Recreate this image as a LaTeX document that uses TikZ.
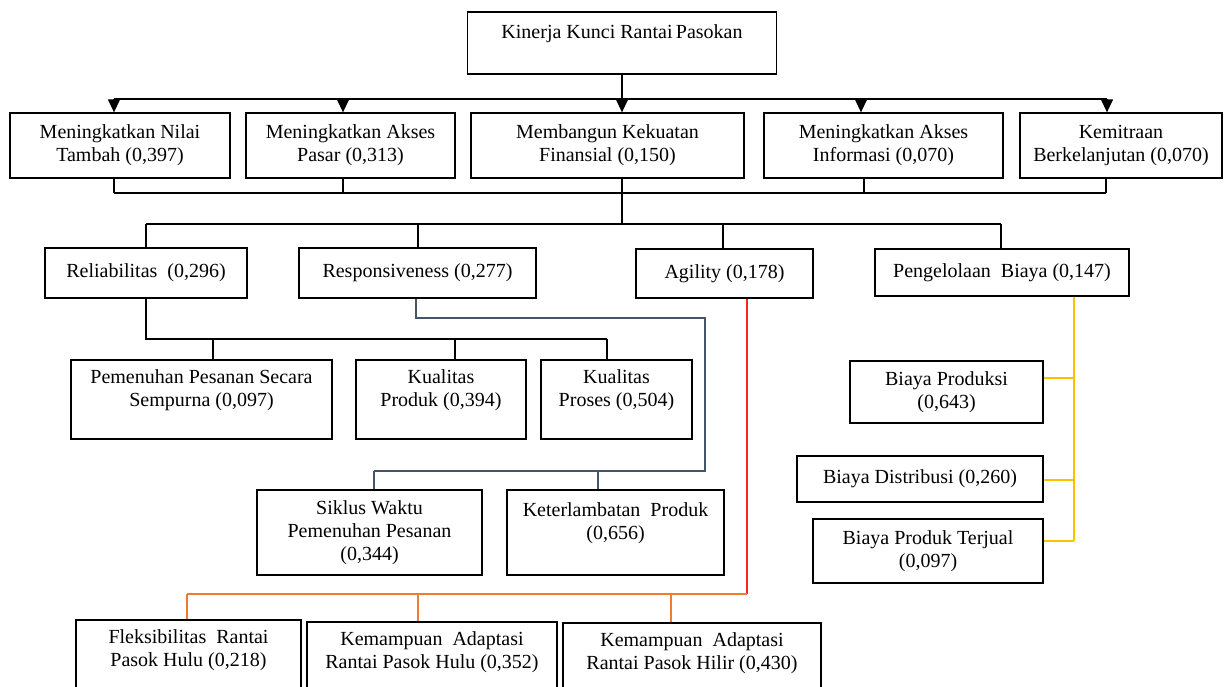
\documentclass[tikz,border=0pt]{standalone}
\usepackage{fontspec}
\setmainfont{Liberation Serif}
\usetikzlibrary{arrows.meta}

\definecolor{cAbu}{HTML}{44546A}
\definecolor{cMerah}{HTML}{FF2424}
\definecolor{cOranye}{HTML}{ED7D31}
\definecolor{cKuning}{HTML}{FFC000}

\tikzset{
  kotak/.style={draw, line width=1.3pt, align=center, inner sep=2pt,
    font=\fontsize{20}{23}\selectfont},
  garis/.style={line width=1.3pt},
  panah/.style={garis, -{Triangle[width=12pt,length=13pt]}},
  jalurAbu/.style={line width=1.4pt, cAbu},
  jalurMerah/.style={line width=1.4pt, cMerah},
  jalurOranye/.style={line width=1.4pt, cOranye},
  jalurKuning/.style={line width=1.4pt, cKuning}
}

\begin{document}
\begin{tikzpicture}[x=1pt, y=-1pt]
    \useasboundingbox (0,0) rectangle (1224,686);
    \clip (0,0) rectangle (1224,686);

    % Obiettivo principale
    \node[kotak, minimum width=309pt, minimum height=62pt] (utama) at (622,43) {Kinerja Kunci Rantai\,Pasokan\\~};

    % Livello 2
    \node[kotak, minimum width=220pt, minimum height=65pt] (nilai) at (120,145.5) {Meningkatkan Nilai\\Tambah (0,397)};
    \node[kotak, minimum width=209pt, minimum height=65pt] (pasar) at (350.5,145.5) {Meningkatkan Akses\\Pasar (0,313)};
    \node[kotak, minimum width=273pt, minimum height=65pt] (finansial) at (607.5,145.5) {Membangun Kekuatan\\Finansial (0,150)};
    \node[kotak, minimum width=239pt, minimum height=65pt] (informasi) at (883.5,145.5) {Meningkatkan Akses\\Informasi (0,070)};
    \node[kotak, minimum width=202pt, minimum height=65pt] (kemitraan) at (1121,145.5) {Kemitraan\\Berkelanjutan (0,070)};

    % Livello 3
    \node[kotak, minimum width=202pt, minimum height=50pt] (reliabilitas) at (146,273) {Reliabilitas~ (0,296)};
    \node[kotak, minimum width=237pt, minimum height=50pt] (responsiveness) at (417.5,273) {Responsiveness (0,277)};
    \node[kotak, minimum width=177pt, minimum height=49pt] (agility) at (724.5,273.5) {Agility (0,178)};
    \node[kotak, minimum width=254pt, minimum height=47pt] (biaya) at (1002,272.5) {Pengelolaan~ Biaya (0,147)};

    % Livello 4: reliabilitas
    \node[kotak, minimum width=261pt, minimum height=79pt] (sempurna) at (201.5,399.5) {Pemenuhan Pesanan Secara\\Sempurna (0,097)\\~};
    \node[kotak, minimum width=170pt, minimum height=79pt] (produk) at (441,399.5) {Kualitas\\Produk (0,394)\\~};
    \node[kotak, minimum width=151pt, minimum height=79pt] (proses) at (616.5,399.5) {Kualitas\\Proses (0,504)\\~};

    % Livello 4: responsiveness
    \node[kotak, minimum width=225pt, minimum height=85pt] (siklus) at (369.5,532.5) {Siklus Waktu\\Pemenuhan Pesanan\\(0,344)};
    \node[kotak, minimum width=217pt, minimum height=85pt] (keterlambatan) at (615.5,532.5) {Keterlambatan~ Produk\\(0,656)\\~};

    % Livello 4: agility
    \node[kotak, minimum width=225pt, minimum height=80pt] (fleksibilitas) at (188.5,660) {Fleksibilitas~ Rantai\\Pasok Hulu (0,218)\\~};
    \node[kotak, minimum width=250pt, minimum height=80pt] (hulu) at (432,662) {Kemampuan~ Adaptasi\\Rantai Pasok Hulu (0,352)\\~};
    \node[kotak, minimum width=258pt, minimum height=80pt] (hilir) at (692,663) {Kemampuan~ Adaptasi\\Rantai Pasok Hilir (0,430)\\~};

    % Livello 4: biaya
    \node[kotak, minimum width=193pt, minimum height=62pt] (produksi) at (946.5,392) {Biaya Produksi\\(0,643)};
    \node[kotak, minimum width=246pt, minimum height=46pt] (distribusi) at (920,479) {Biaya Distribusi (0,260)};
    \node[kotak, minimum width=230pt, minimum height=64pt] (terjual) at (928,551) {Biaya Produk Terjual\\(0,097)};

    % Frecce dall'obiettivo
    \draw[panah] (utama.south) -- (utama.south |- finansial.north);
    \foreach \n/\x in {nilai/114, pasar/343, informasi/861, kemitraan/1107} {
        \coordinate (a\n) at (\x,99);
        \draw[panah] (a\n) -- (a\n |- \n.north);
    }
    \draw[garis] (anilai) -- (akemitraan);

    % Collegamento livello 2 -> livello 3
    \foreach \n/\x in {nilai/114, pasar/343, finansial/622, informasi/864, kemitraan/1106} {
        \coordinate (b\n) at (\x,193);
        \draw[garis] (b\n |- \n.south) -- (b\n);
    }
    \draw[garis] (bnilai) -- (bkemitraan);
    \coordinate (pusat) at (622,224);
    \draw[garis] (bfinansial) -- (pusat);
    \foreach \n/\x in {reliabilitas/146, responsiveness/418, agility/723, biaya/1001} {
        \coordinate (c\n) at (\x,224);
        \draw[garis] (c\n) -- (c\n |- \n.north);
    }
    \draw[garis] (creliabilitas) -- (cbiaya);

    % Reliabilitas
    \coordinate (r0) at (146,339);
    \foreach \n/\x in {sempurna/213, produk/455, proses/607} {
        \coordinate (d\n) at (\x,339);
        \draw[garis] (d\n) -- (d\n |- \n.north);
    }
    \draw[garis] (reliabilitas.south -| r0) -- (r0) -- (dproses);

    % Responsiveness
    \coordinate (s1) at (416,318);
    \coordinate (s2) at (705,318);
    \coordinate (s3) at (705,471);
    \foreach \n/\x in {siklus/374, keterlambatan/598} {
        \coordinate (e\n) at (\x,471);
        \draw[jalurAbu] (e\n) -- (e\n |- \n.north);
    }
    \draw[jalurAbu] (responsiveness.south -| s1) -- (s1) -- (s2) -- (s3) -- (esiklus);

    % Agility
    \coordinate (g1) at (747,594);
    \draw[jalurMerah] (agility.south -| g1) -- (g1);
    \foreach \n/\x in {fleksibilitas/187, hulu/418, hilir/671} {
        \coordinate (f\n) at (\x,594);
        \draw[jalurOranye] (f\n) -- (f\n |- \n.north);
    }
    \draw[jalurOranye] (g1) -- (ffleksibilitas);

    % Pengelolaan biaya
    \foreach \n/\y in {produksi/378, distribusi/480, terjual/541} {
        \coordinate (h\n) at (1074,\y);
        \draw[jalurKuning] (h\n) -- (h\n -| \n.east);
    }
    \draw[jalurKuning] (biaya.south -| hterjual) -- (hterjual);

\end{tikzpicture}
\end{document}
